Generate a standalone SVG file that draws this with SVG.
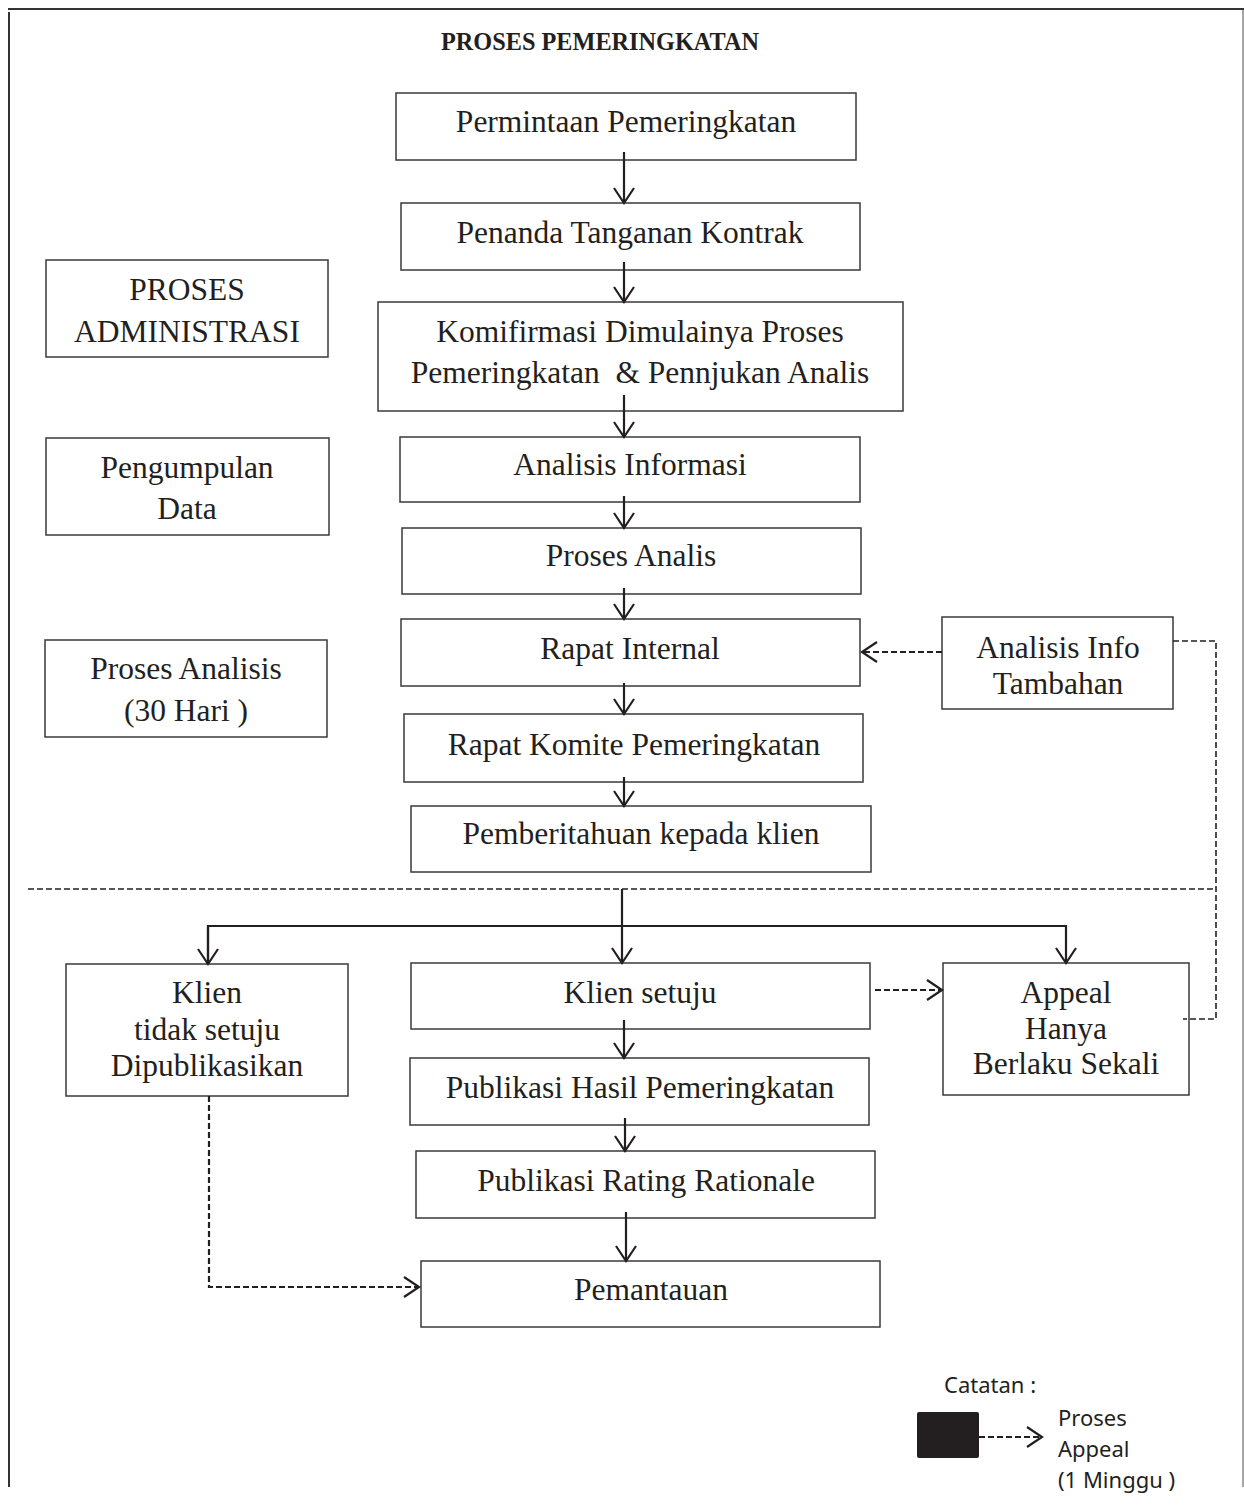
<svg xmlns="http://www.w3.org/2000/svg" width="1244" height="1511" viewBox="0 0 1244 1511">
<defs>
<marker id="ah" markerUnits="userSpaceOnUse" markerWidth="24" markerHeight="26" refX="16" refY="11" orient="auto">
<path d="M1 1 L16 11 L1 21" fill="none" stroke="#231f20" stroke-width="2.2"/>
</marker>
</defs>
<style>
.box{fill:#fff;stroke:#3a3a3a;stroke-width:1.5}
.t{font-family:"Liberation Serif","Times New Roman",serif;font-size:31.5px;fill:#231f20;text-anchor:middle}
.s{fill:none;stroke:#231f20;stroke-width:2.2}
.d{fill:none;stroke:#231f20;stroke-width:2.2;stroke-dasharray:6 3}
.d2{fill:none;stroke:#231f20;stroke-width:1.6;stroke-dasharray:6 3}
.leg{font-family:"Noto Sans","Open Sans",sans-serif;font-size:22px;fill:#231f20}
</style>
<rect width="1244" height="1511" fill="#fff"/>
<g id="frame">
<line x1="8" y1="9" x2="1244" y2="9" stroke="#333" stroke-width="2"/>
<line x1="9" y1="12" x2="9" y2="1487" stroke="#333" stroke-width="2"/>
<line x1="1243" y1="10" x2="1243" y2="1487" stroke="#888" stroke-width="1.5"/>
</g>
<text id="title" x="600" y="50" font-family="'Liberation Serif','Times New Roman',serif" font-weight="bold" font-size="24.5" fill="#231f20" text-anchor="middle" textLength="318" lengthAdjust="spacingAndGlyphs">PROSES PEMERINGKATAN</text>

<g id="n1"><rect class="box" x="396" y="93" width="460" height="67"/><text class="t" x="626" y="132">Permintaan Pemeringkatan</text></g>
<g id="n2"><rect class="box" x="401" y="203" width="459" height="67"/><text class="t" x="630" y="243">Penanda Tanganan Kontrak</text></g>
<g id="n3"><rect class="box" x="378" y="302" width="525" height="109"/><text class="t" x="640" y="342">Komifirmasi Dimulainya Proses</text><text class="t" x="640" y="383" xml:space="preserve">Pemeringkatan  &amp; Pennjukan Analis</text></g>
<g id="n4"><rect class="box" x="400" y="437" width="460" height="65"/><text class="t" x="630" y="475">Analisis Informasi</text></g>
<g id="n5"><rect class="box" x="402" y="528" width="459" height="66"/><text class="t" x="631" y="566">Proses Analis</text></g>
<g id="n6"><rect class="box" x="401" y="619" width="459" height="67"/><text class="t" x="630" y="659">Rapat Internal</text></g>
<g id="n7"><rect class="box" x="404" y="714" width="459" height="68"/><text class="t" x="634" y="755">Rapat Komite Pemeringkatan</text></g>
<g id="n8"><rect class="box" x="411" y="806" width="460" height="66"/><text class="t" x="641" y="844">Pemberitahuan kepada klien</text></g>

<g id="l1"><rect class="box" x="46" y="260" width="282" height="97"/><text class="t" x="187" y="300">PROSES</text><text class="t" x="187" y="342">ADMINISTRASI</text></g>
<g id="l2"><rect class="box" x="46" y="438" width="283" height="97"/><text class="t" x="187" y="478">Pengumpulan</text><text class="t" x="187" y="519">Data</text></g>
<g id="l3"><rect class="box" x="45" y="640" width="282" height="97"/><text class="t" x="186" y="679">Proses Analisis</text><text class="t" x="186" y="721">(30 Hari )</text></g>

<g id="info"><rect class="box" x="942" y="617" width="231" height="92"/><text class="t" x="1058" y="658">Analisis Info</text><text class="t" x="1058" y="694">Tambahan</text></g>

<g id="tidak"><rect class="box" x="66" y="964" width="282" height="132"/><text class="t" x="207" y="1003">Klien</text><text class="t" x="207" y="1040">tidak setuju</text><text class="t" x="207" y="1076">Dipublikasikan</text></g>
<g id="setuju"><rect class="box" x="411" y="963" width="459" height="66"/><text class="t" x="640" y="1003">Klien setuju</text></g>
<g id="appeal"><rect class="box" x="943" y="963" width="246" height="132"/><text class="t" x="1066" y="1003">Appeal</text><text class="t" x="1066" y="1039">Hanya</text><text class="t" x="1066" y="1074">Berlaku Sekali</text></g>
<g id="pub1"><rect class="box" x="410" y="1058" width="459" height="67"/><text class="t" x="640" y="1098">Publikasi Hasil Pemeringkatan</text></g>
<g id="pub2"><rect class="box" x="416" y="1151" width="459" height="67"/><text class="t" x="646" y="1191">Publikasi Rating Rationale</text></g>
<g id="pantau"><rect class="box" x="421" y="1261" width="459" height="66"/><text class="t" x="651" y="1300">Pemantauan</text></g>

<g id="connectors">
<line class="s" x1="624" y1="152" x2="624" y2="203" marker-end="url(#ah)"/>
<line class="s" x1="624" y1="262" x2="624" y2="302" marker-end="url(#ah)"/>
<line class="s" x1="624" y1="395" x2="624" y2="437" marker-end="url(#ah)"/>
<line class="s" x1="624" y1="496" x2="624" y2="528" marker-end="url(#ah)"/>
<line class="s" x1="624" y1="588" x2="624" y2="619" marker-end="url(#ah)"/>
<line class="s" x1="624" y1="683" x2="624" y2="714" marker-end="url(#ah)"/>
<line class="s" x1="624" y1="777" x2="624" y2="806" marker-end="url(#ah)"/>
<line class="s" x1="622" y1="889" x2="622" y2="963" marker-end="url(#ah)"/>
<polyline class="s" points="208,964 208,926 1066,926 1066,963" marker-end="url(#ah)"/>
<line class="s" x1="208" y1="926" x2="208" y2="964" marker-end="url(#ah)"/>
<line class="s" x1="624" y1="1020" x2="624" y2="1058" marker-end="url(#ah)"/>
<line class="s" x1="625" y1="1118" x2="625" y2="1151" marker-end="url(#ah)"/>
<line class="s" x1="626" y1="1212" x2="626" y2="1261" marker-end="url(#ah)"/>
<line class="d" x1="942" y1="652" x2="862" y2="652" marker-end="url(#ah)"/>
<polyline class="d2" points="1173,641 1216,641 1216,1019 1183,1019"/>
<line class="d2" x1="28" y1="889" x2="1216" y2="889"/>
<line class="d" x1="875" y1="990" x2="942" y2="990" marker-end="url(#ah)"/>
<polyline class="d" points="209,1096 209,1287 419,1287" marker-end="url(#ah)"/>
</g>

<g id="legend">
<text class="leg" x="944" y="1393">Catatan :</text>
<rect x="917" y="1412" width="62" height="46" rx="2" fill="#231f20"/>
<line class="d" x1="979" y1="1437" x2="1042" y2="1437" marker-end="url(#ah)"/>
<text class="leg" x="1058" y="1426">Proses</text>
<text class="leg" x="1058" y="1457">Appeal</text>
<text class="leg" x="1058" y="1488">(1 Minggu )</text>
</g>
</svg>
